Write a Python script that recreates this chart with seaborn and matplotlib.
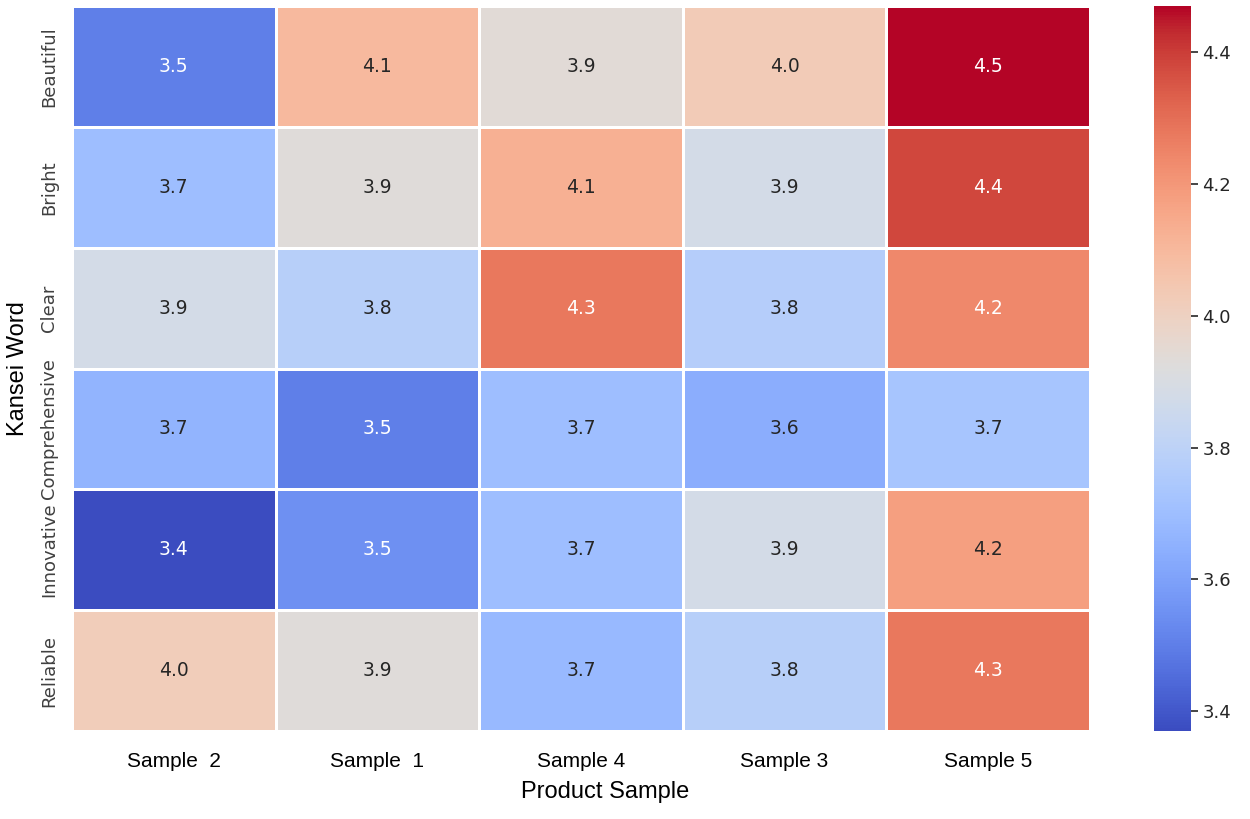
import pandas as pd
import matplotlib
matplotlib.use("Agg")
import matplotlib.pyplot as plt
import numpy as np
import seaborn as sns


samples = ["Sample  2", "Sample  1", "Sample 4", "Sample 3", "Sample 5"]
words = ["Beautiful", "Bright", "Clear", "Comprehensive", "Innovative", "Reliable"]

beautiful = [3.50, 4.10, 3.94, 4.03, 4.47]
bright = [3.70, 3.93, 4.13, 3.88, 4.38]
clear = [3.88, 3.78, 4.28, 3.77, 4.24]
comprehensive = [3.66, 3.50, 3.70, 3.64, 3.73]
innovative = [3.37, 3.55, 3.70, 3.88, 4.18]
reliable = [4.02, 3.93, 3.68, 3.78, 4.28]

df = pd.DataFrame([beautiful, bright, clear, comprehensive, innovative, reliable],
                  index=words, columns=samples)

sns.set_theme(style="white")

fig = plt.figure(figsize=(12.5, 8.19), dpi=100)
ax = fig.add_axes([0.0576, 0.1075, 0.8144, 0.885])
cax = fig.add_axes([0.923, 0.1075, 0.0296, 0.885])

sns.heatmap(df, annot=True, fmt=".1f", cmap="coolwarm", linewidths=0.9, linecolor="white",
            ax=ax, cbar_ax=cax, annot_kws={"fontsize": 13.5, "family": "DejaVu Sans"})

ax.tick_params(axis="both", length=0)
ax.tick_params(axis="x", pad=15)
ax.tick_params(axis="y", pad=10)
for lbl in ax.get_xticklabels():
    lbl.set_fontfamily("Liberation Sans")
    lbl.set_fontsize(15)
    lbl.set_color("black")
for lbl in ax.get_yticklabels():
    lbl.set_fontfamily("DejaVu Sans")
    lbl.set_fontsize(13)
    lbl.set_rotation(90)
    lbl.set_va("center")
    lbl.set_color(".25")

ax.set_xlabel("Product Sample", fontsize=17, family="Liberation Sans", color="black")
ax.set_ylabel("Kansei Word", fontsize=17, family="Liberation Sans", color="black")
ax.xaxis.set_label_coords(0.524, -0.069)
ax.yaxis.set_label_coords(-0.042, 0.5)

cax.tick_params(axis="y", right=True, length=5, width=1.2, labelsize=13, colors=".15")

fig.savefig("out.png", dpi=100)
